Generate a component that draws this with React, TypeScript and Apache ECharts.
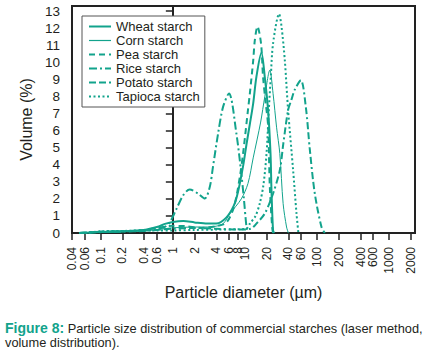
import React, { useEffect, useRef } from 'react';
import * as echarts from 'echarts';

const xTickValues = [0.04, 0.06, 0.1, 0.2, 0.4, 0.6, 1, 2, 4, 6, 8, 10, 20, 40, 60, 100, 200, 400, 600, 1000, 2000];
const xTickLabels = ['0.04', '0.06', '0.1', '0.2', '0.4', '0.6', '1', '2', '4', '6', '8', '10', '20', '40', '60', '100', '200', '400', '600', '1000', '2000'];
const yTickValues = [0, 1, 2, 3, 4, 5, 6, 7, 8, 9, 10, 11, 12, 13];

const seriesNames = ['Wheat starch', 'Corn starch', 'Pea starch', 'Rice starch', 'Potato starch', 'Tapioca starch'];

// particle diameter (µm) and volume (%)
const wheatD = [0.05, 0.1, 0.2, 0.4, 0.6, 0.8, 1.0, 1.4, 2, 3, 4, 5.5, 7, 8, 9.4, 10.5, 11.7, 13, 14.4, 16.9, 18.8, 20.9, 22.6, 23.3, 24.5, 25.5];
const wheatV = [0, 0.06, 0.1, 0.18, 0.35, 0.55, 0.65, 0.7, 0.62, 0.55, 0.55, 0.9, 1.6, 2.4, 3.9, 5.2, 6.4, 7.6, 9.15, 10.56, 9.15, 7.2, 4.66, 2.5, 0.16, 0];

const cornD = [0.05, 0.1, 0.2, 0.4, 0.6, 1, 2, 3, 4, 5, 6.2, 8.9, 11, 13, 16.5, 18.8, 22.1, 24.5, 27.4, 30.4, 33.8, 37.7, 40];
const cornV = [0, 0.05, 0.08, 0.12, 0.2, 0.3, 0.35, 0.35, 0.4, 0.55, 1.14, 2.0, 2.9, 4.4, 6.5, 7.98, 9.54, 8.18, 6.2, 4.66, 1.72, 0.35, 0];

const peaD = [0.05, 0.1, 0.2, 0.4, 0.6, 1, 1.5, 2.5, 4, 5.5, 7, 8.5, 9.5, 11, 11.7, 13, 13.7, 14.9, 16.7, 17.8, 19.4, 20.9, 22.1, 23.8, 24.5];
const peaV = [0, 0.07, 0.1, 0.18, 0.3, 0.42, 0.4, 0.3, 0.4, 0.6, 1.5, 3.3, 4.8, 7.2, 8.2, 10.1, 11.3, 12.1, 11.1, 9.15, 7.6, 6.3, 2.7, 0.35, 0];

const riceD = [0.05, 0.1, 0.2, 0.4, 0.6, 0.77, 0.9, 1.12, 1.39, 1.71, 2.24, 2.77, 3.25, 3.6, 4.24, 4.97, 6.0, 7.6, 8.9, 9.7, 10.5, 11];
const riceV = [0, 0.08, 0.1, 0.15, 0.25, 0.35, 0.6, 1.4, 2.21, 2.55, 2.31, 2.02, 2.7, 3.87, 5.83, 7.39, 8.18, 5.83, 3.48, 1.92, 0.35, 0];

const potatoD = [0.05, 0.1, 0.2, 0.4, 0.6, 1, 2, 4, 8, 12, 14.4, 18.8, 24.5, 30.4, 34, 39.6, 44, 49, 59.5, 69.7, 79.4, 92.9, 115, 128];
const potatoV = [0, 0.05, 0.08, 0.12, 0.18, 0.25, 0.3, 0.25, 0.2, 0.25, 0.55, 1.14, 2.31, 3.68, 5.24, 7.2, 7.8, 8.4, 8.95, 7.39, 4.85, 2.31, 0.35, 0];

const tapiocaD = [0.06, 0.1, 0.2, 0.4, 0.6, 1, 2, 4, 8, 10.5, 11.7, 14, 16, 18, 19.9, 21.4, 22.8, 24.5, 29.7, 32.1, 35.7, 39.6, 46.5, 51.8, 55];
const tapiocaV = [0, 0.1, 0.12, 0.15, 0.15, 0.15, 0.18, 0.2, 0.22, 0.26, 0.55, 1.0, 1.72, 2.8, 4.66, 7.2, 9.15, 11.1, 12.83, 12.1, 10.1, 7.2, 3.68, 1.14, 0];

const TEAL = '#12a38c';
const TEXT = '#231f20';
const FONT = 'Liberation Sans';

function pairs(d: number[], v: number[]) {
  return d.map((x, i) => [Math.log10(x), v[i]]);
}

export default function App() {
  const ref = useRef<HTMLDivElement>(null);
  useEffect(() => {
    if (!ref.current) return;
    const chart = echarts.init(ref.current, undefined, { renderer: 'svg' });
    const data = [
      pairs(wheatD, wheatV),
      pairs(cornD, cornV),
      pairs(peaD, peaV),
      pairs(riceD, riceV),
      pairs(potatoD, potatoV),
      pairs(tapiocaD, tapiocaV),
    ];
    const styles: any[] = [
      { width: 2, type: 'solid' },
      { width: 1, type: 'solid' },
      { width: 2, type: [6, 4] },
      { width: 2, type: [8, 3, 2, 3] },
      { width: 2, type: [7, 3, 7, 3, 2, 3] },
      { width: 2, type: [2, 2.5] },
    ];
    const logTicks = xTickValues.map((v) => Math.log10(v));
    chart.setOption({
      animation: false,
      textStyle: { fontFamily: FONT, color: TEXT },
      grid: { left: 72, right: 11, top: 6, bottom: 123, show: true, borderColor: '#222', borderWidth: 2, backgroundColor: 'transparent' },
      legend: {
        left: 82,
        top: 16,
        orient: 'vertical',
        itemWidth: 22,
        itemHeight: 10,
        itemGap: 1,
        padding: [4, 5, 4, 6],
        borderColor: '#555',
        borderWidth: 1,
        backgroundColor: '#fff',
        itemStyle: { opacity: 0, borderWidth: 0 },
        textStyle: { fontSize: 13, color: TEXT, fontFamily: FONT },
        data: seriesNames.map((n, i) => (i === 1 ? { name: n, lineStyle: { width: 1.2 } } : { name: n })),
      },
      xAxis: {
        type: 'value',
        min: Math.log10(0.04) - 1e-6,
        max: 3.357,
        name: 'Particle diameter (µm)',
        nameLocation: 'middle',
        nameGap: 51,
        nameTextStyle: { fontSize: 16, color: TEXT, fontFamily: FONT },
        axisLine: { onZero: false, lineStyle: { color: '#222', width: 2 } },
        axisTick: { show: true, length: 7, lineStyle: { color: '#222', width: 1.5 }, customValues: logTicks },
        axisLabel: {
          customValues: logTicks,
          interval: 0,
          hideOverlap: false,
          rotate: 90,
          margin: 14,
          fontSize: 12,
          color: TEXT,
          fontFamily: FONT,
          showMinLabel: true,
          showMaxLabel: true,
          formatter: (v: number) => {
            const i = logTicks.findIndex((t) => Math.abs(t - v) < 1e-4);
            return i >= 0 ? xTickLabels[i] : '';
          },
        },
        splitLine: { show: false },
      },
      yAxis: {
        type: 'value',
        min: 0,
        max: 13.3,
        name: 'Volume (%)',
        nameLocation: 'middle',
        nameGap: 34,
        nameTextStyle: { fontSize: 16, color: TEXT, fontFamily: FONT },
        axisLine: { show: true, lineStyle: { color: '#222', width: 2 } },
        axisTick: { show: true, length: 7, lineStyle: { color: '#222', width: 1.5 }, customValues: yTickValues },
        axisLabel: { customValues: yTickValues, margin: 12, fontSize: 13.5, color: TEXT, fontFamily: FONT },
        splitLine: { show: false },
      },
      series: seriesNames.map((n, i) => ({
        name: n,
        type: 'line',
        data: data[i],
        smooth: 0.3,
        showSymbol: false,
        symbol: 'none',
        lineStyle: { color: TEAL, ...styles[i] },
        itemStyle: { color: TEAL },
        z: 2,
      })),
      graphic: [
        {
          type: 'text',
          left: 5,
          top: 321,
          style: {
            text: '{b|Figure 8:} Particle size distribution of commercial starches (laser method,\nvolume distribution).',
            font: `12.8px "${FONT}"`,
            fill: TEXT,
            lineHeight: 14,
            rich: {
              b: { fontWeight: 'bold', fill: TEAL, fontSize: 14, fontFamily: FONT, lineHeight: 14 },
            },
          },
        },
      ],
    });
    return () => chart.dispose();
  }, []);
  return <div ref={ref} style={{ width: 426, height: 356, position: 'absolute', left: 0, top: 0, background: '#fff' }} />;
}
